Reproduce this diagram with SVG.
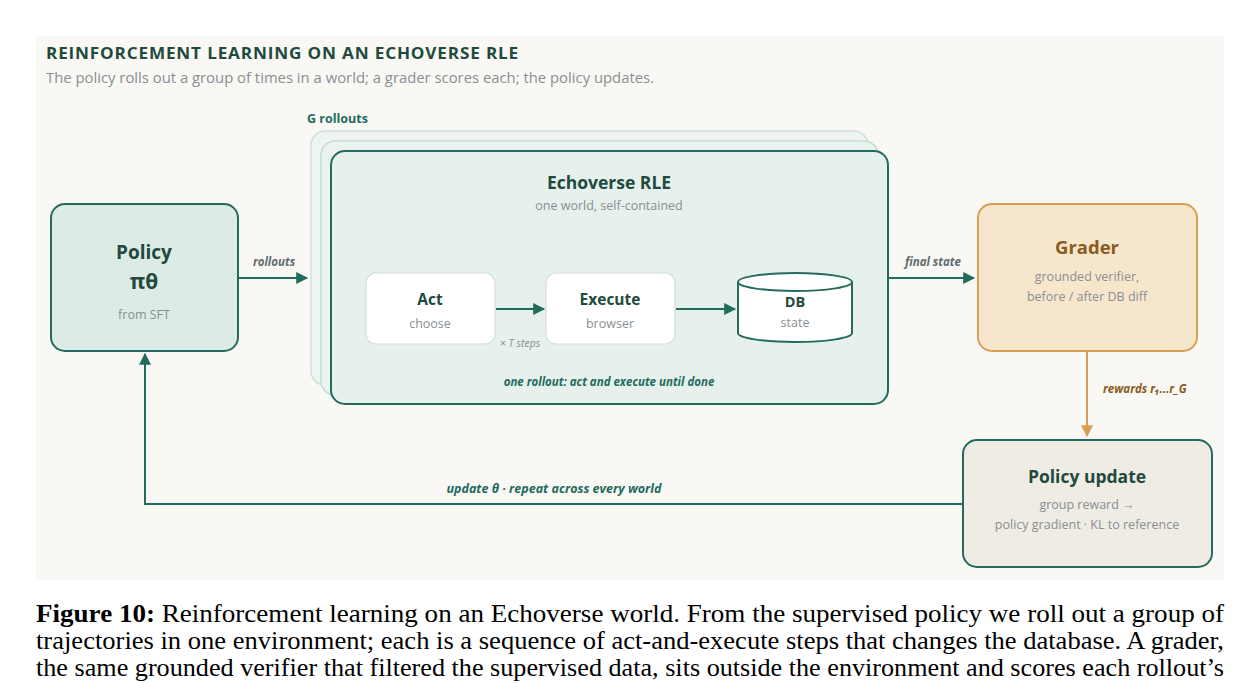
<svg xmlns="http://www.w3.org/2000/svg" width="1260" height="683" viewBox="0 0 1260 683">
<style>
text{font-family:"Open Sans","Noto Sans",sans-serif}
.t{font-weight:700;fill:#1f4a3d;text-anchor:middle}
.s{font-size:12.5px;fill:#8a8f93;text-anchor:middle}
.lab{font-size:11.5px;font-style:italic;font-weight:700;fill:#5f6b70}
.cap{font-family:"Liberation Serif",serif;font-size:25px;fill:#000}
.ln{stroke:#236b5c;stroke-width:2;fill:none}
</style>
<defs>
<marker id="ag" viewBox="0 0 10 10" refX="9" refY="5" markerWidth="13" markerHeight="12" markerUnits="userSpaceOnUse" orient="auto"><path d="M0,0L10,5L0,10z" fill="#236b5c"/></marker>
<marker id="ao" viewBox="0 0 10 10" refX="9" refY="5" markerWidth="13" markerHeight="12" markerUnits="userSpaceOnUse" orient="auto"><path d="M0,0L10,5L0,10z" fill="#d9a055"/></marker>
</defs>
<rect width="1260" height="683" fill="#fff"/>
<rect x="36" y="36" width="1188" height="544" fill="#f9f8f4"/>
<text x="46" y="59" font-size="16.5" font-weight="700" fill="#1f4a3d" letter-spacing="0.8" textLength="473" lengthAdjust="spacingAndGlyphs">REINFORCEMENT LEARNING ON AN ECHOVERSE RLE</text>
<text x="46" y="83" font-size="14.5" fill="#8a8f93" textLength="608" lengthAdjust="spacingAndGlyphs">The policy rolls out a group of times in a world; a grader scores each; the policy updates.</text>
<text x="307" y="123" font-size="12.5" font-weight="700" fill="#236b5c">G rollouts</text>

<g id="policy">
<rect x="51" y="204" width="187" height="147" rx="14" fill="#dcebe5" stroke="#236b5c" stroke-width="2"/>
<text class="t" x="144" y="259" font-size="19">Policy</text>
<text class="t" x="144" y="289" font-size="21">πθ</text>
<text class="s" x="144" y="319">from SFT</text>
</g>
<g id="rle">
<rect x="311" y="131" width="557" height="254" rx="14" fill="#edf4f1" stroke="#cde2da" stroke-width="1.5"/>
<rect x="321" y="141" width="557" height="254" rx="14" fill="#eaf3f0" stroke="#c3ddd3" stroke-width="1.5"/>
<rect x="331" y="151" width="557" height="253" rx="14" fill="#e6f0ed" stroke="#236b5c" stroke-width="2"/>
<text class="t" x="609" y="189" font-size="17.5">Echoverse RLE</text>
<text class="s" x="609" y="210" font-size="12">one world, self-contained</text>
<text x="609" y="386" font-size="11.5" font-style="italic" font-weight="700" fill="#236b5c" text-anchor="middle">one rollout: act and execute until done</text>
</g>
<g id="act">
<rect x="366" y="273" width="129" height="71" rx="10" fill="#fff" stroke="#d4ddd9" stroke-width="1.2"/>
<text class="t" x="430" y="305" font-size="15.5">Act</text>
<text class="s" x="430" y="328">choose</text>
</g>
<g id="execute">
<rect x="546" y="273" width="129" height="71" rx="10" fill="#fff" stroke="#d4ddd9" stroke-width="1.2"/>
<text class="t" x="610" y="305" font-size="15.5">Execute</text>
<text class="s" x="610" y="328">browser</text>
</g>
<g id="db">
<path d="M738,282 V333 A57,9 0 0 0 852,333 V282" fill="#fff" stroke="#236b5c" stroke-width="2"/>
<ellipse cx="795" cy="282" rx="57" ry="9" fill="#fff" stroke="#236b5c" stroke-width="2"/>
<text class="t" x="795" y="307" font-size="14.5">DB</text>
<text class="s" x="795" y="327">state</text>
</g>
<g id="grader">
<rect x="978" y="204" width="219" height="147" rx="14" fill="#f6e7cc" stroke="#d9a055" stroke-width="2"/>
<text x="1087" y="254" font-size="18.5" font-weight="700" fill="#8a5a1e" text-anchor="middle">Grader</text>
<text class="s" x="1087" y="281" font-size="13">grounded verifier,</text>
<text class="s" x="1087" y="301" font-size="13">before / after DB diff</text>
</g>
<g id="update">
<rect x="963" y="440" width="249" height="127" rx="14" fill="#efece4" stroke="#236b5c" stroke-width="2"/>
<text class="t" x="1087" y="483" font-size="17.5">Policy update</text>
<text class="s" x="1087" y="509">group reward →</text>
<text class="s" x="1087" y="529">policy gradient · KL to reference</text>
</g>
<g id="connectors">
<path class="ln" d="M238,278 H307" marker-end="url(#ag)"/>
<text class="lab" x="274" y="266" text-anchor="middle">rollouts</text>
<path class="ln" d="M496,309 H544" marker-end="url(#ag)"/>
<text x="520" y="347" font-size="10.5" font-style="italic" fill="#8a8f93" text-anchor="middle">× T steps</text>
<path class="ln" d="M676,309 H735" marker-end="url(#ag)"/>
<path class="ln" d="M888,278 H974" marker-end="url(#ag)"/>
<text class="lab" x="933" y="266" text-anchor="middle">final state</text>
<path d="M1087,351 V436" stroke="#d9a055" stroke-width="2" fill="none" marker-end="url(#ao)"/>
<text x="1103" y="393" font-size="11.5" font-style="italic" font-weight="700" fill="#8a5a1e">rewards r₁...r_G</text>
<path class="ln" d="M963,504 H145 V354" marker-end="url(#ag)"/>
<text x="554" y="493" font-size="12.5" font-style="italic" font-weight="700" fill="#236b5c" text-anchor="middle">update θ · repeat across every world</text>
</g>
<text class="cap" x="36" y="622" textLength="1188" lengthAdjust="spacingAndGlyphs"><tspan font-weight="700">Figure 10:</tspan> Reinforcement learning on an Echoverse world. From the supervised policy we roll out a group of</text>
<text class="cap" x="36" y="649" textLength="1188" lengthAdjust="spacingAndGlyphs">trajectories in one environment; each is a sequence of act-and-execute steps that changes the database. A grader,</text>
<text class="cap" x="36" y="676" textLength="1188" lengthAdjust="spacingAndGlyphs">the same grounded verifier that filtered the supervised data, sits outside the environment and scores each rollout’s</text>
</svg>
